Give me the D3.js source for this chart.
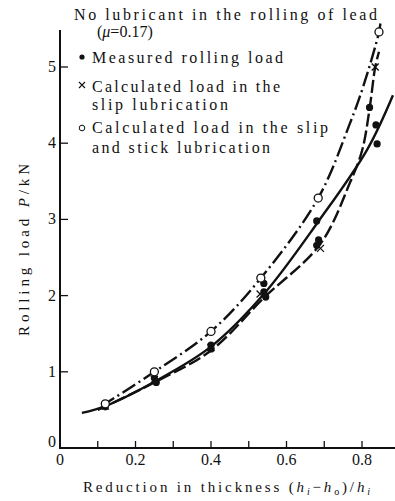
<!DOCTYPE html>
<html>
<head>
<meta charset="utf-8">
<script src="https://cdn.jsdelivr.net/npm/d3@7"></script>
<style>
  body { margin: 0; background: #fff; }
  text { font-family: "Liberation Serif", "DejaVu Serif", serif; fill: #111; }
</style>
</head>
<body>
<svg id="chart" width="395" height="501"></svg>
<script>
// measured points (filled dots)
var measuredX = [0.12, 0.25, 0.255, 0.40, 0.40, 0.54, 0.54, 0.545, 0.68, 0.685, 0.68, 0.82, 0.837, 0.84];
var measuredY = [0.54, 0.92, 0.86, 1.35, 1.30, 2.16, 2.05, 1.98, 2.98, 2.73, 2.66, 4.47, 4.24, 3.99];
// slip lubrication (crosses)
var slipX = [0.12, 0.25, 0.40, 0.53, 0.69, 0.835];
var slipY = [0.55, 0.90, 1.32, 2.02, 2.62, 5.00];
// slip and stick (open circles)
var stickX = [0.12, 0.25, 0.40, 0.532, 0.684, 0.845];
var stickY = [0.58, 1.00, 1.53, 2.23, 3.28, 5.46];

// fitted curves
var solidX = [0.058, 0.12, 0.25, 0.40, 0.54, 0.684, 0.813, 0.882];
var solidY = [0.46, 0.55, 0.87, 1.33, 2.02, 2.97, 3.91, 4.63];
var dashX = [0.10, 0.25, 0.40, 0.54, 0.69, 0.768, 0.80, 0.82, 0.835, 0.845];
var dashY = [0.50, 0.86, 1.28, 1.97, 2.68, 3.48, 3.90, 4.45, 5.00, 5.20];
var dashDotX = [0.11, 0.25, 0.40, 0.532, 0.684, 0.768, 0.803, 0.845, 0.85];
var dashDotY = [0.55, 1.00, 1.53, 2.23, 3.28, 4.26, 4.74, 5.46, 5.62];

var xTicks = [0, 0.2, 0.4, 0.6, 0.8];
var xMinor = [0.1, 0.3, 0.5, 0.7];
var yTicks = [0, 1, 2, 3, 4, 5];

var svg = d3.select('#chart');

var x = d3.scaleLinear().domain([0, 0.8]).range([60, 362]);
var y = d3.scaleLinear().domain([0, 5]).range([448, 67]);

function pts(xs, ys) {
    return xs.map(function (v, i) { return [v, ys[i]]; });
}

var line = d3.line()
    .x(function (d) { return x(d[0]); })
    .y(function (d) { return y(d[1]); })
    .curve(d3.curveCatmullRom.alpha(0.5));

// axes
svg.append('line').attr('x1', 60).attr('x2', 60).attr('y1', 30).attr('y2', y(0) + 1)
    .attr('stroke', '#111').attr('stroke-width', 2);
svg.append('line').attr('x1', 59).attr('x2', 395).attr('y1', y(0)).attr('y2', y(0))
    .attr('stroke', '#111').attr('stroke-width', 2);

// y ticks (inward)
svg.selectAll('.ytick').data(yTicks.filter(function (d) { return d > 0; })).enter()
    .append('line').attr('class', 'ytick')
    .attr('x1', 60).attr('x2', 68)
    .attr('y1', function (d) { return y(d); }).attr('y2', function (d) { return y(d); })
    .attr('stroke', '#111').attr('stroke-width', 1.3);
svg.selectAll('.ylab').data(yTicks).enter()
    .append('text').attr('class', 'ylab')
    .attr('x', 56)
    .attr('y', function (d) { return d === 0 ? y(d) - 1 : y(d) + 5; })
    .attr('text-anchor', 'end')
    .style('font-size', '16px')
    .text(function (d) { return d; });

// x ticks (inward)
svg.selectAll('.xtick').data(xTicks.filter(function (d) { return d > 0; }).concat(xMinor)).enter()
    .append('line').attr('class', 'xtick')
    .attr('x1', function (d) { return x(d); }).attr('x2', function (d) { return x(d); })
    .attr('y1', y(0)).attr('y2', y(0) - 7)
    .attr('stroke', '#111').attr('stroke-width', 1.3);
svg.selectAll('.xlab').data(xTicks).enter()
    .append('text').attr('class', 'xlab')
    .attr('x', function (d) { return x(d); })
    .attr('y', 465)
    .attr('text-anchor', 'middle')
    .style('font-size', '16px')
    .text(function (d) { return d === 0 ? '0' : d3.format('.1f')(d); });

// axis titles
var yt = svg.append('text')
    .attr('transform', 'translate(29,250) rotate(-90)')
    .attr('text-anchor', 'middle')
    .style('font-size', '15px')
    .attr('textLength', 172).attr('lengthAdjust', 'spacing');
yt.append('tspan').text('Rolling load ');
yt.append('tspan').style('font-style', 'italic').text('P');
yt.append('tspan').text('/kN');

var xt = svg.append('text')
    .attr('x', 83).attr('y', 492)
    .style('font-size', '15px')
    .attr('textLength', 287).attr('lengthAdjust', 'spacing');
xt.append('tspan').text('Reduction in thickness (');
xt.append('tspan').style('font-style', 'italic').text('h');
xt.append('tspan').attr('baseline-shift', '-25%').style('font-size', '10px').style('font-style', 'italic').text('i');
xt.append('tspan').text('\u2212');
xt.append('tspan').style('font-style', 'italic').text('h');
xt.append('tspan').attr('baseline-shift', '-25%').style('font-size', '10px').text('o');
xt.append('tspan').text(')/');
xt.append('tspan').style('font-style', 'italic').text('h');
xt.append('tspan').attr('baseline-shift', '-25%').style('font-size', '10px').style('font-style', 'italic').text('i');

// curves
svg.append('path').datum(pts(solidX, solidY)).attr('d', line)
    .attr('fill', 'none').attr('stroke', '#111').attr('stroke-width', 2.4);
svg.append('path').datum(pts(dashX, dashY)).attr('d', line)
    .attr('fill', 'none').attr('stroke', '#111').attr('stroke-width', 2.4)
    .attr('stroke-dasharray', '13,4');
svg.append('path').datum(pts(dashDotX, dashDotY)).attr('d', line)
    .attr('fill', 'none').attr('stroke', '#111').attr('stroke-width', 2.4)
    .attr('stroke-dasharray', '15,4,2,4');

// markers
svg.selectAll('.meas').data(pts(measuredX, measuredY)).enter()
    .append('circle').attr('class', 'meas')
    .attr('cx', function (d) { return x(d[0]); }).attr('cy', function (d) { return y(d[1]); })
    .attr('r', 3.6).attr('fill', '#111');
svg.selectAll('.slip').data(pts(slipX, slipY)).enter()
    .append('path').attr('class', 'slip')
    .attr('d', function (d) {
        var cx = x(d[0]), cy = y(d[1]), s = 3.5;
        return 'M' + (cx - s) + ',' + (cy - s) + 'L' + (cx + s) + ',' + (cy + s) +
            'M' + (cx - s) + ',' + (cy + s) + 'L' + (cx + s) + ',' + (cy - s);
    })
    .attr('stroke', '#111').attr('stroke-width', 1.3);
svg.selectAll('.stick').data(pts(stickX, stickY)).enter()
    .append('circle').attr('class', 'stick')
    .attr('cx', function (d) { return x(d[0]); }).attr('cy', function (d) { return y(d[1]); })
    .attr('r', 4).attr('fill', '#fff').attr('stroke', '#111').attr('stroke-width', 1.3);

// legend / notes
function note(tx, ty, len, str) {
    svg.append('text').attr('x', tx).attr('y', ty)
        .style('font-size', '16px')
        .attr('textLength', len).attr('lengthAdjust', 'spacing')
        .text(str);
}
note(74, 20, 303, 'No lubricant in the rolling of lead');
var mu = svg.append('text').attr('x', 97).attr('y', 37).style('font-size', '16px');
mu.append('tspan').text('(');
mu.append('tspan').style('font-style', 'italic').text('\u03bc');
mu.append('tspan').text('=0.17)');
note(92, 63, 191, 'Measured rolling load');
note(92, 92, 188, 'Calculated load in the');
note(92, 110, 136, 'slip lubrication');
note(92, 133, 236, 'Calculated load in the slip');
note(92, 153, 178, 'and stick lubrication');

svg.append('circle').attr('cx', 82).attr('cy', 57).attr('r', 2.6).attr('fill', '#111');
svg.append('path').attr('d', 'M79,82L85,88M79,88L85,82').attr('stroke', '#111').attr('stroke-width', 1.1);
svg.append('circle').attr('cx', 82).attr('cy', 128).attr('r', 2.8).attr('fill', '#fff')
    .attr('stroke', '#111').attr('stroke-width', 1);
</script>
</body>
</html>
